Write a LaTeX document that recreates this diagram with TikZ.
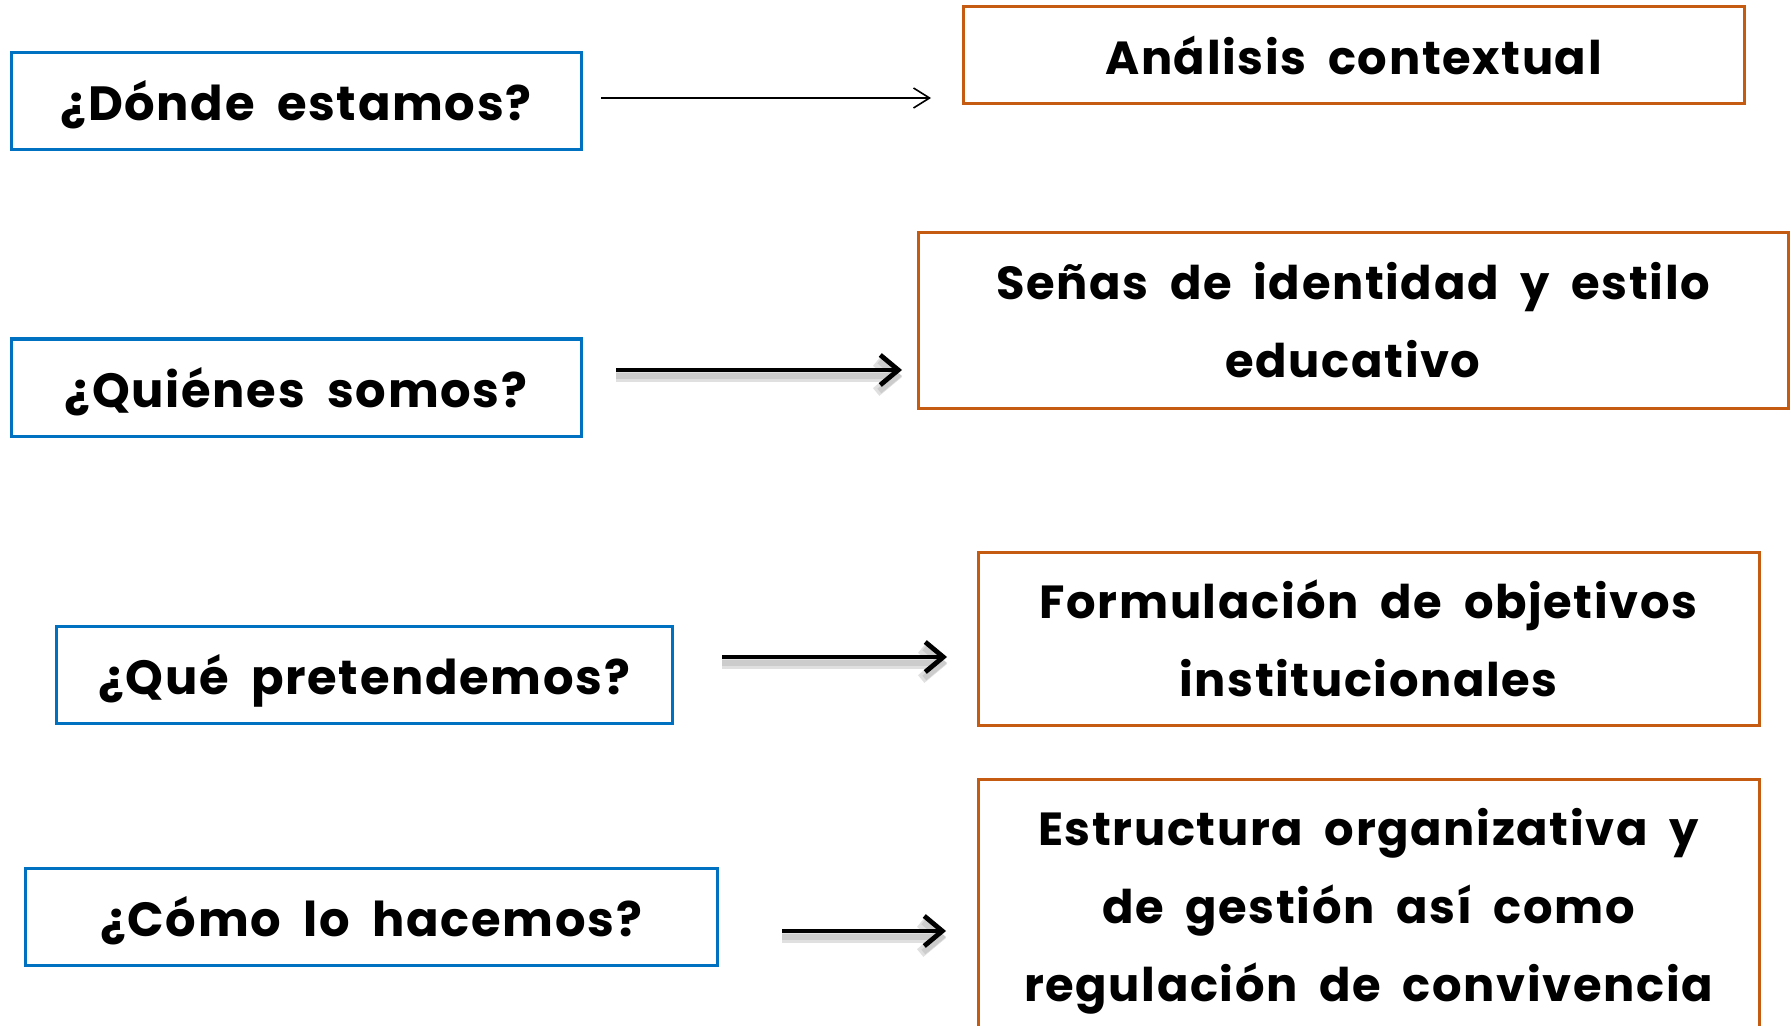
\documentclass[tikz,border=0pt]{standalone}
\usepackage{fontspec}
\setmainfont{Poppins}[BoldFont={* Bold}, LetterSpace=3.5, WordSpace=1.9]
\usepackage{tikz}
\usetikzlibrary{positioning, arrows.meta}
\definecolor{qBlue}{HTML}{0070C0}
\definecolor{aOrange}{HTML}{C55A11}
\definecolor{aInk}{HTML}{000000}

\begin{document}
\begin{tikzpicture}[x=0.5pt, y=-0.5pt, >=Straight Barb,
          qbox/.style={draw=qBlue, line width=1.5pt, inner sep=0pt, text height=22.5pt, text depth=3pt,
            font=\fontsize{24}{30}\selectfont\bfseries, minimum height=48.5pt},
          abox/.style={draw=aOrange, line width=1.5pt, inner sep=0pt, align=center,
            font=\fontsize{23.2}{39}\selectfont\bfseries},
          thinarr/.style={line width=0.8pt, aInk, arrows={-Straight Barb[length=8pt, width=10pt]}},
          thickarr/.style={line width=2.4pt, aInk, arrows={-Straight Barb[length=9pt, width=15pt]},
            preaction={draw=black!12, line width=5pt, transform canvas={yshift=-3.5pt}, arrows={-Straight Barb[length=9pt, width=15pt]}},
            preaction={draw=black!20, line width=3pt, transform canvas={yshift=-3pt}, arrows={-Straight Barb[length=9pt, width=15pt]}}}]
        \useasboundingbox (0,0) rectangle (1791,1026);
        % questions
        \node[qbox, minimum width=285pt] (q1) at (296,101.5) {¿Dónde estamos?};
        \node[qbox, minimum width=285pt] (q2) at (296,387.5) {¿Quiénes somos?};
        \node[qbox, minimum width=308pt] (q3) at (364,674.5) {¿Qué pretendemos?};
        \node[qbox, minimum width=346pt] (q4) at (371,916.5) {¿Cómo lo hacemos?};
        % answers
        \node[abox, minimum width=390.5pt, minimum height=48.5pt] (a1) at (1353.5,55.5) {Análisis contextual};
        \node[abox, minimum width=435pt, minimum height=87.5pt] (a2) at (1353,320.5) {Señas de identidad y estilo\\educativo};
        \node[abox, minimum width=390.5pt, minimum height=86.5pt] (a3) at (1368.5,638.5) {Formulación de objetivos\\institucionales};
        \node[abox, minimum width=390.5pt, minimum height=150pt, anchor=north] (a4) at (1368.5,778) {};
        \node[font=\fontsize{23.2}{39}\selectfont\bfseries, align=center, anchor=north] (t4) at (1368.5,801) {Estructura organizativa y\\de gestión así como\\regulación de convivencia};
        % arrows
        \coordinate (s1) at (601,98);  \coordinate (e1) at (931,98);
        \coordinate (s2) at (616,370); \coordinate (e2) at (902,370);
        \coordinate (s3) at (722,657); \coordinate (e3) at (947,657);
        \coordinate (s4) at (782,931); \coordinate (e4) at (946,931);
        \draw[thinarr] (s1) -- (e1);
        \draw[thickarr] (s2) -- (e2);
        \draw[thickarr] (s3) -- (e3);
        \draw[thickarr] (s4) -- (e4);
      \end{tikzpicture}
\end{document}
